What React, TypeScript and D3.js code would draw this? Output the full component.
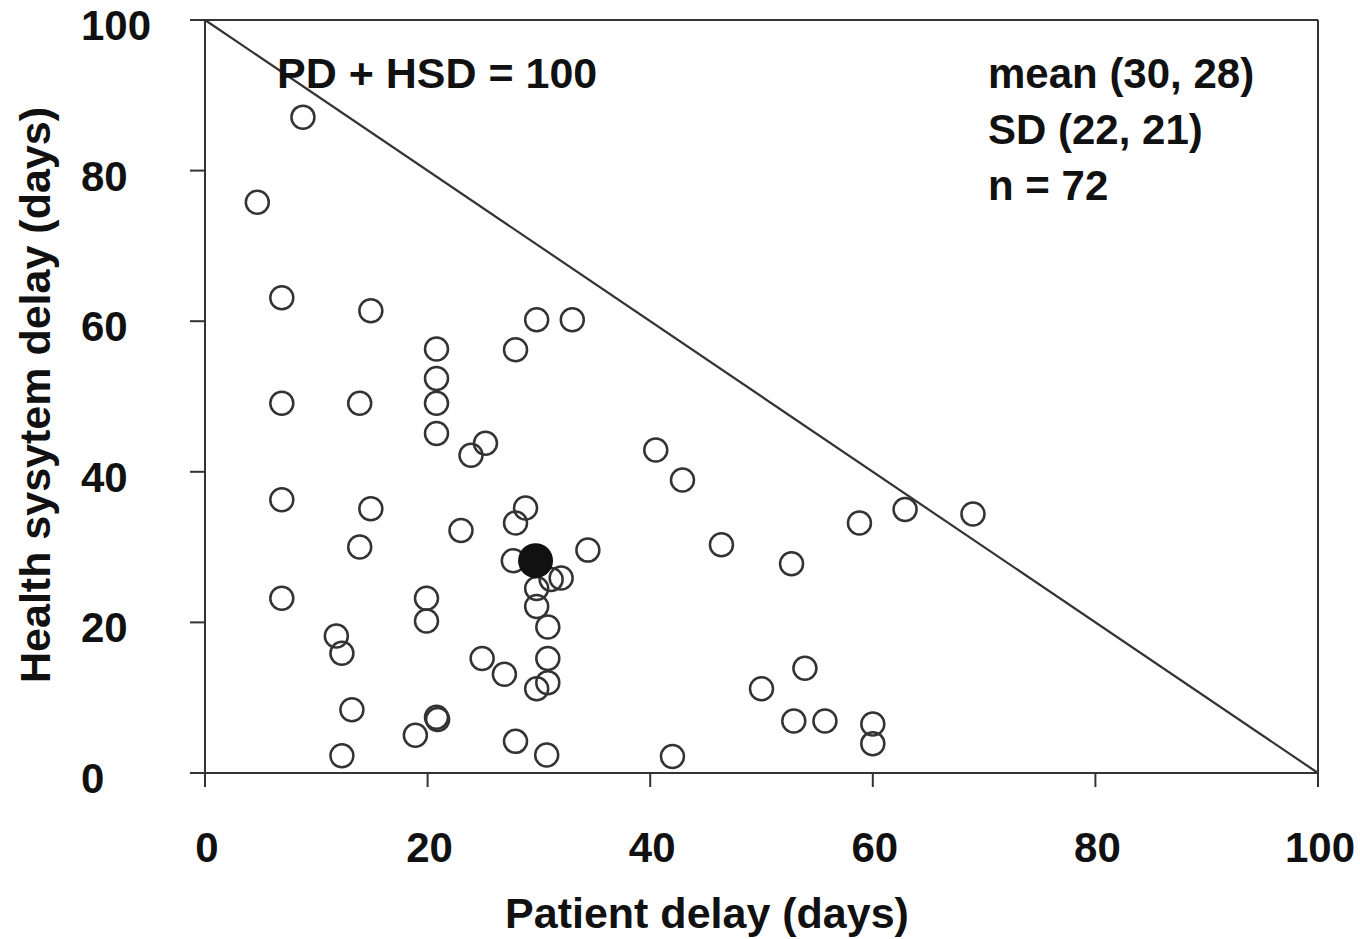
import { useRef, useEffect } from 'react';
import * as d3 from 'd3';

// patient delay (x) and health system delay (y), in days, one entry per patient
const PATIENT_DELAY = [
  8.8, 4.7, 6.9, 14.9, 6.9, 13.9, 6.9, 14.9, 13.9, 6.9,
  11.8, 12.3, 13.2, 12.3, 18.9, 20.8, 20.9, 19.9, 19.9, 20.8,
  20.8, 20.8, 20.8, 23.9, 25.2, 23.0, 27.9, 29.8, 33.0, 27.9,
  28.8, 27.7, 34.4, 32.0, 31.1, 29.8, 29.8, 30.8, 24.9, 26.9,
  30.8, 29.8, 30.8, 27.9, 30.7, 40.5, 42.9, 46.4, 42.0, 50.0,
  53.9, 52.9, 55.7, 60.0, 60.0, 52.7, 58.8, 62.9, 69.0
];
const HEALTH_SYSTEM_DELAY = [
  87.1, 75.8, 63.1, 61.4, 49.1, 49.1, 36.3, 35.1, 30.0, 23.2,
  18.2, 15.9, 8.4, 2.3, 5.0, 7.4, 7.1, 23.2, 20.2, 56.3,
  52.4, 49.1, 45.1, 42.2, 43.8, 32.2, 56.2, 60.2, 60.2, 33.2,
  35.2, 28.2, 29.6, 25.9, 25.7, 24.5, 22.1, 19.4, 15.2, 13.1,
  15.2, 11.2, 12.0, 4.2, 2.4, 42.9, 38.9, 30.3, 2.2, 11.2,
  13.9, 6.9, 6.9, 6.5, 3.9, 27.8, 33.2, 35.0, 34.4
];
const MEAN_POINT = [29.7, 28.2];
const X_TICKS = [0, 20, 40, 60, 80, 100];
const Y_TICKS = [0, 20, 40, 60, 80, 100];
const STATS_LINES = ["mean (30, 28)", "SD (22, 21)", "n = 72"];
const LINE_LABEL = "PD + HSD = 100";
const X_TITLE = "Patient delay (days)";
const Y_TITLE = "Health sysytem delay (days)";

const FONT = "'Liberation Sans', Arial, sans-serif";
const INK = "#111";
const LINE = "#333";

function DelayScatter() {
  const svgRef = useRef<SVGSVGElement>(null);

  useEffect(() => {
    const svg = d3.select(svgRef.current);
    svg.selectAll("*").remove();

    const left = 205, right = 1318, top = 20, bottom = 773;

    const x = d3.scaleLinear().domain([0, 100]).range([left, right]);
    const y = d3.scaleLinear().domain([0, 100]).range([bottom, top]);

    const g = svg.append("g");

    // frame: top and right edges
    g.append("line")
      .attr("x1", left).attr("x2", right).attr("y1", top).attr("y2", top)
      .attr("stroke", LINE).attr("stroke-width", 2);
    g.append("line")
      .attr("x1", right).attr("x2", right).attr("y1", top).attr("y2", bottom)
      .attr("stroke", LINE).attr("stroke-width", 2);

    // axes lines
    g.append("line")
      .attr("x1", left).attr("x2", right).attr("y1", bottom).attr("y2", bottom)
      .attr("stroke", LINE).attr("stroke-width", 2);
    g.append("line")
      .attr("x1", left).attr("x2", left).attr("y1", top).attr("y2", bottom)
      .attr("stroke", LINE).attr("stroke-width", 2);

    // ticks
    g.selectAll("line.xtick")
      .data(X_TICKS)
      .enter().append("line")
      .attr("class", "xtick")
      .attr("x1", d => x(d)).attr("x2", d => x(d))
      .attr("y1", bottom).attr("y2", bottom + 14)
      .attr("stroke", LINE).attr("stroke-width", 2);
    g.selectAll("line.ytick")
      .data(Y_TICKS)
      .enter().append("line")
      .attr("class", "ytick")
      .attr("x1", left - 15).attr("x2", left)
      .attr("y1", d => y(d)).attr("y2", d => y(d))
      .attr("stroke", LINE).attr("stroke-width", 2);

    // tick labels
    g.selectAll("text.xlab")
      .data(X_TICKS)
      .enter().append("text")
      .attr("class", "xlab")
      .attr("x", d => x(d) + 2)
      .attr("y", 862)
      .attr("text-anchor", "middle")
      .style("font", `bold 42px ${FONT}`)
      .style("fill", INK)
      .text(d => d);
    g.selectAll("text.ylab")
      .data(Y_TICKS)
      .enter().append("text")
      .attr("class", "ylab")
      .attr("x", 81)
      .attr("y", d => y(d) + 20)
      .style("font", `bold 42px ${FONT}`)
      .style("fill", INK)
      .text(d => d);

    // axis titles
    g.append("text")
      .attr("x", 707).attr("y", 928)
      .attr("text-anchor", "middle")
      .style("font", `bold 43px ${FONT}`)
      .style("fill", INK)
      .text(X_TITLE);
    g.append("text")
      .attr("transform", "translate(50,395) rotate(-90)")
      .attr("text-anchor", "middle")
      .style("font", `bold 43px ${FONT}`)
      .style("fill", INK)
      .text(Y_TITLE);

    // PD + HSD = 100 line
    g.append("line")
      .attr("x1", x(0)).attr("y1", y(100))
      .attr("x2", x(100)).attr("y2", y(0))
      .attr("stroke", LINE).attr("stroke-width", 2.2);

    g.append("text")
      .attr("x", 277).attr("y", 88)
      .style("font", `bold 43px ${FONT}`)
      .style("fill", INK)
      .text(LINE_LABEL);

    g.selectAll("text.stat")
      .data(STATS_LINES)
      .enter().append("text")
      .attr("class", "stat")
      .attr("x", 988)
      .attr("y", (d, i) => 88 + i * 56)
      .style("font", `bold 42px ${FONT}`)
      .style("fill", INK)
      .text(d => d);

    // points
    const pts = PATIENT_DELAY.map((pd, i) => ({ pd, hsd: HEALTH_SYSTEM_DELAY[i] }));
    g.selectAll("circle.pt")
      .data(pts)
      .enter().append("circle")
      .attr("class", "pt")
      .attr("cx", d => x(d.pd))
      .attr("cy", d => y(d.hsd))
      .attr("r", 11.5)
      .attr("fill", "none")
      .attr("stroke", LINE)
      .attr("stroke-width", 2.5);

    g.append("circle")
      .attr("cx", x(MEAN_POINT[0]))
      .attr("cy", y(MEAN_POINT[1]))
      .attr("r", 17.5)
      .attr("fill", "#111");
  }, []);

  return (
    <svg
      ref={svgRef}
      width={1360}
      height={939}
      style={{ position: 'absolute', left: 0, top: 0, background: '#fff' }}
    />
  );
}

export default function App() {
  return <DelayScatter />;
}
